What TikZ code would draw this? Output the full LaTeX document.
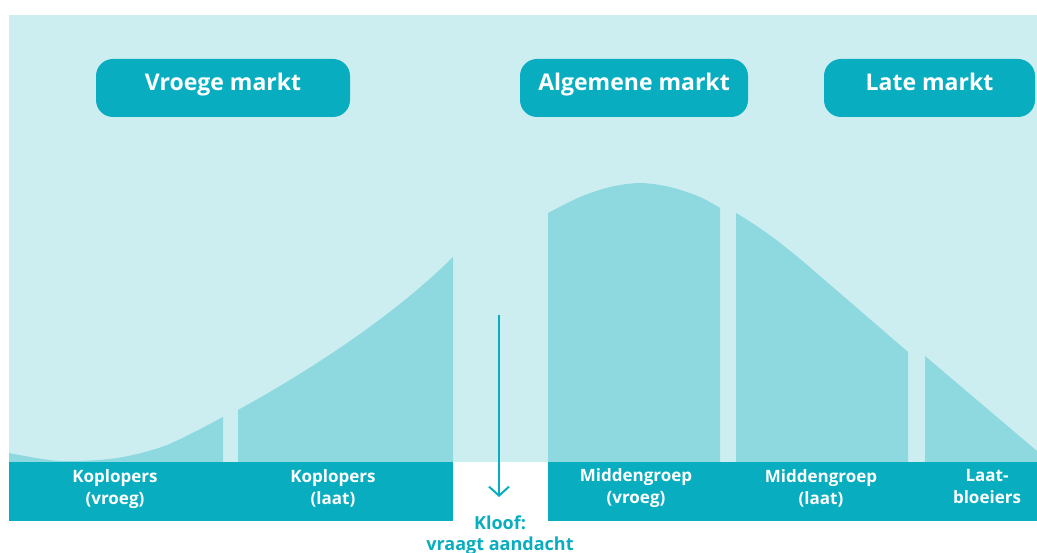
\documentclass[tikz,border=0pt]{standalone}
\usepackage{fontspec}
\setmainfont{Open Sans}
\usetikzlibrary{arrows.meta}
\definecolor{bglight}{HTML}{CDEEF0}
\definecolor{midteal}{HTML}{8DD9DF}
\definecolor{darkteal}{HTML}{08AEBF}
\tikzset{
  pill/.style={fill=darkteal, rounded corners=17pt, minimum height=58pt, inner sep=0pt, text height=13pt, text depth=7pt, text=white, font=\fontsize{23}{26}\selectfont\bfseries},
  bandlabel/.style={text=white, align=center, font=\fontsize{17}{22}\selectfont\bfseries},
  kloofstyle/.style={text=darkteal, align=center, font=\fontsize{18}{21}\selectfont\bfseries},
  seg/.style={fill=midteal, draw=none}
}
\begin{document}
\begin{tikzpicture}[x=1pt,y=-1pt]
\useasboundingbox (0,0) rectangle (1037,553);
\fill[white] (0,0) rectangle (1037,553);
% background
\fill[bglight] (9,15) rectangle (1037,462);
% curve segments
\fill[seg] (9,462) -- plot[smooth] coordinates {(9,453) (60,461) (117,458) (167,445) (223,417)} -- (223,462) -- cycle;
\fill[seg] (238,462) -- (238,410) .. controls (320,365) and (400,310) .. (453,257) -- (453,462) -- cycle;
\fill[seg] (548,462) -- plot[smooth] coordinates {(548,213) (580,197) (610,187) (640,183) (670,187) (700,197) (720,208)} -- (720,462) -- cycle;
\fill[seg] (736,462) -- (736,213) .. controls (765,230) and (790,250) .. (813,270) -- (908,352) -- (908,462) -- cycle;
\fill[seg] (925,462) -- (925,356) -- (1037,451) -- (1037,462) -- cycle;
% bottom band
\fill[darkteal] (9,462) rectangle (453,521);
\fill[darkteal] (548,462) rectangle (1037,521);
% pills
\node[pill, minimum width=254pt] (vroege) at (223,88) {Vroege markt};
\node[pill, minimum width=228pt] (algemeen) at (634,88) {Algemene markt};
\node[pill, minimum width=211pt] (late) at (929.5,88) {Late markt};
% band labels
\node[bandlabel] (kv) at (115,489) {Koplopers\\(vroeg)};
\node[bandlabel] (kl) at (333,488) {Koplopers\\(laat)};
\node[bandlabel] (mv) at (636,488) {Middengroep\\(vroeg)};
\node[bandlabel] (ml) at (821,488) {Middengroep\\(laat)};
\node[bandlabel] (lb) at (987,487) {Laat-\\bloeiers};
% kloof
\coordinate (ktop) at (499,315);
\coordinate (ktip) at (499,497);
\draw[darkteal, line width=2pt, -{Straight Barb[length=9pt,width=20pt,line width=2pt]}] (ktop) -- (ktip);
\node[kloofstyle] (kloof) at (500,535) {Kloof:\\vraagt aandacht};
\end{tikzpicture}
\end{document}
